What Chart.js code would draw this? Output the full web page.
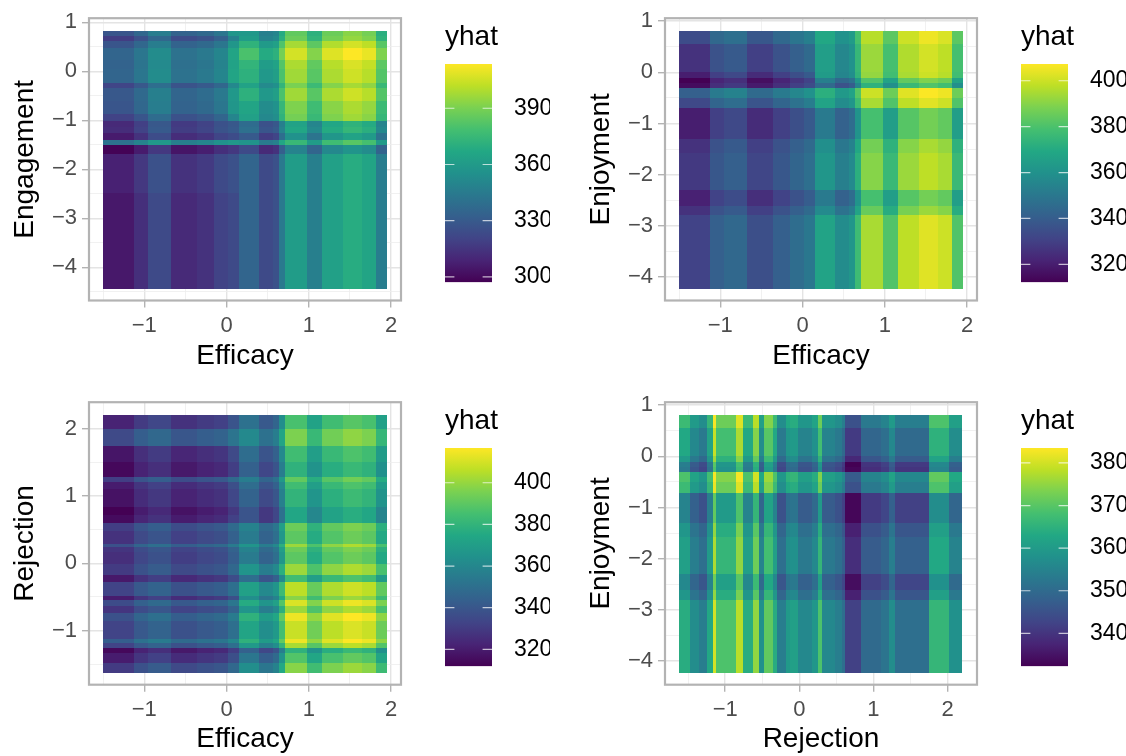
<!DOCTYPE html>
<html>
<head>
<meta charset="utf-8">
<title>yhat heatmaps</title>
<script src="https://cdn.jsdelivr.net/npm/chart.js@4"></script>
<style>
  html, body { margin: 0; padding: 0; background: #fff; overflow: hidden; }
  canvas { position: absolute; }
</style>
</head>
<body>
<canvas id="heat1"></canvas><canvas id="bar1"></canvas>
<canvas id="heat2"></canvas><canvas id="bar2"></canvas>
<canvas id="heat3"></canvas><canvas id="bar3"></canvas>
<canvas id="heat4"></canvas><canvas id="bar4"></canvas>
<script>
const efficacyEdges = [-1.503, -1.126, -0.956, -0.677, -0.365, -0.154, 0.016, 0.146, 0.392, 0.563, 0.635, 0.708, 0.976, 1.158, 1.417, 1.64, 1.814, 1.948];
const engagementEdges = [0.82, 0.72, 0.62, 0.47, 0.23, 0.05, -0.24, -0.34, -0.6, -0.87, -1.02, -1.13, -1.27, -1.4, -1.5, -1.69, -2.49, -4.44];
const enjoymentEdges = [0.8, 0.556, 0.012, -0.117, -0.214, -0.311, -0.494, -0.708, -1.311, -1.57, -2.296, -2.615, -2.796, -4.23];
const rejectionRowEdges = [2.2, 2.0, 1.74, 1.5, 1.28, 1.21, 1.1, 0.83, 0.71, 0.59, 0.48, 0.29, 0.24, 0.16, -0.01, -0.17, -0.28, -0.48, -0.54, -0.63, -0.74, -0.86, -1.12, -1.18, -1.26, -1.34, -1.48, -1.627];
const rejectionColEdges = [-1.627, -1.48, -1.357, -1.25, -1.17, -1.13, -0.86, -0.76, -0.62, -0.55, -0.48, -0.36, -0.3, -0.18, -0.13, -0.02, 0.17, 0.25, 0.3, 0.48, 0.57, 0.62, 0.83, 1.1, 1.21, 1.29, 1.56, 1.75, 2.02, 2.2];

// rows run top to bottom, columns left to right
const yhatEngagementEfficacy = [
  [328, 336, 346, 334, 337, 343, 358, 359, 347, 350, 368, 385, 371, 387, 393, 389, 370],
  [318, 326, 336, 324, 327, 333, 348, 361, 349, 352, 370, 387, 373, 389, 395, 391, 372],
  [328, 336, 346, 334, 337, 343, 358, 372, 360, 363, 381, 398, 384, 400, 406, 402, 383],
  [335, 343, 353, 341, 344, 350, 365, 380, 368, 371, 389, 406, 392, 408, 414, 410, 391],
  [334, 342, 352, 340, 343, 349, 364, 373, 361, 364, 382, 399, 385, 401, 407, 403, 384],
  [335, 343, 353, 341, 344, 350, 365, 371, 359, 362, 380, 397, 383, 399, 405, 401, 382],
  [321, 329, 339, 327, 330, 336, 351, 364, 352, 355, 373, 390, 376, 392, 398, 394, 375],
  [329, 337, 347, 335, 338, 344, 359, 371, 359, 362, 380, 397, 383, 399, 405, 401, 382],
  [328, 336, 346, 334, 337, 343, 358, 365, 353, 356, 374, 391, 377, 393, 399, 395, 376],
  [320, 328, 338, 326, 329, 335, 350, 363, 351, 354, 372, 389, 375, 391, 397, 393, 374],
  [311, 319, 329, 317, 320, 326, 329, 338, 326, 329, 347, 364, 350, 366, 372, 368, 349],
  [312, 320, 330, 318, 321, 327, 330, 340, 328, 331, 349, 366, 352, 368, 374, 370, 351],
  [306, 314, 324, 312, 315, 321, 324, 330, 318, 321, 339, 356, 342, 358, 364, 360, 341],
  [341, 349, 359, 347, 350, 356, 359, 357, 345, 348, 366, 375, 361, 377, 383, 379, 360],
  [298, 306, 316, 304, 307, 313, 316, 323, 311, 314, 332, 349, 335, 351, 357, 353, 334],
  [308, 316, 326, 314, 317, 323, 326, 335, 323, 326, 344, 361, 347, 363, 369, 365, 346],
  [305, 313, 323, 311, 314, 320, 323, 335, 323, 326, 344, 361, 347, 363, 369, 365, 346]
];
const yhatEnjoymentEfficacy = [
  [334, 344, 347, 338, 344, 349, 353, 369, 360, 364, 379, 397, 383, 400, 405, 402, 383],
  [326, 336, 339, 330, 336, 341, 345, 365, 356, 360, 375, 393, 379, 396, 401, 398, 379],
  [320, 330, 333, 324, 330, 335, 339, 364, 355, 359, 374, 392, 378, 395, 400, 397, 378],
  [312, 322, 325, 316, 322, 327, 331, 353, 344, 348, 363, 381, 367, 384, 389, 386, 367],
  [315, 325, 328, 319, 325, 330, 334, 345, 336, 340, 355, 373, 359, 376, 381, 378, 359],
  [341, 351, 354, 345, 351, 356, 360, 372, 363, 367, 382, 400, 386, 403, 407, 405, 386],
  [333, 343, 346, 337, 343, 348, 352, 367, 358, 362, 377, 395, 381, 398, 403, 400, 381],
  [320, 330, 333, 324, 330, 335, 339, 351, 342, 346, 361, 379, 365, 382, 387, 384, 365],
  [326, 336, 339, 330, 336, 341, 345, 359, 350, 354, 369, 387, 373, 390, 395, 392, 373],
  [328, 338, 341, 332, 338, 343, 347, 362, 353, 357, 372, 390, 376, 393, 398, 395, 376],
  [321, 331, 334, 325, 331, 336, 340, 351, 342, 346, 361, 379, 365, 382, 387, 384, 365],
  [326, 336, 339, 330, 336, 341, 345, 357, 348, 352, 367, 385, 371, 388, 393, 390, 371],
  [331, 341, 344, 335, 341, 346, 350, 367, 358, 362, 377, 395, 381, 398, 403, 400, 381]
];
const yhatRejectionEfficacy = [
  [322, 330, 334, 327, 330, 332, 339, 351, 341, 346, 363, 386, 372, 384, 389, 386, 371],
  [335, 343, 347, 340, 343, 345, 352, 361, 351, 356, 373, 396, 382, 394, 399, 396, 381],
  [318, 326, 330, 323, 326, 328, 335, 349, 339, 344, 361, 384, 370, 382, 387, 384, 369],
  [314, 322, 326, 319, 322, 324, 331, 344, 334, 339, 356, 379, 365, 377, 382, 379, 364],
  [331, 339, 343, 336, 339, 341, 348, 356, 346, 351, 368, 391, 377, 389, 394, 391, 376],
  [320, 328, 332, 325, 328, 330, 337, 349, 339, 344, 361, 384, 370, 382, 387, 384, 369],
  [317, 325, 329, 322, 325, 327, 334, 345, 335, 340, 357, 380, 366, 378, 383, 380, 365],
  [312, 320, 324, 317, 320, 322, 329, 339, 329, 334, 351, 374, 360, 372, 377, 374, 359],
  [315, 323, 327, 320, 323, 325, 332, 339, 329, 334, 351, 374, 360, 372, 377, 374, 359],
  [331, 339, 343, 336, 339, 341, 348, 358, 348, 353, 370, 393, 379, 391, 396, 393, 378],
  [327, 335, 339, 332, 335, 337, 344, 355, 345, 350, 367, 390, 376, 388, 393, 390, 375],
  [338, 346, 350, 343, 346, 348, 355, 366, 356, 361, 378, 401, 387, 399, 404, 401, 386],
  [328, 336, 340, 333, 336, 338, 345, 358, 348, 353, 370, 393, 379, 391, 396, 393, 378],
  [326, 334, 338, 331, 334, 336, 343, 355, 345, 350, 367, 390, 376, 388, 393, 390, 375],
  [330, 338, 342, 335, 338, 340, 347, 366, 356, 361, 378, 401, 387, 399, 404, 401, 386],
  [319, 327, 331, 324, 327, 329, 336, 349, 339, 344, 361, 384, 370, 382, 387, 384, 369],
  [333, 341, 345, 338, 341, 343, 350, 371, 361, 366, 383, 406, 392, 404, 409, 406, 391],
  [320, 328, 332, 325, 328, 330, 337, 363, 353, 358, 375, 398, 384, 396, 401, 398, 383],
  [336, 344, 348, 341, 344, 346, 353, 376, 366, 371, 388, 411, 397, 409, 414, 411, 396],
  [328, 336, 340, 333, 336, 338, 345, 366, 356, 361, 378, 401, 387, 399, 404, 401, 386],
  [338, 346, 350, 343, 346, 348, 355, 379, 369, 374, 391, 414, 400, 412, 417, 414, 399],
  [333, 341, 345, 338, 341, 343, 350, 373, 363, 368, 385, 408, 394, 406, 411, 408, 393],
  [343, 351, 355, 348, 351, 353, 360, 379, 369, 374, 391, 414, 400, 412, 417, 414, 399],
  [333, 341, 345, 338, 341, 343, 350, 368, 358, 363, 380, 403, 389, 401, 406, 403, 388],
  [314, 322, 326, 319, 322, 324, 331, 344, 334, 339, 356, 379, 365, 377, 382, 379, 364],
  [320, 328, 332, 325, 328, 330, 337, 353, 343, 348, 365, 388, 374, 386, 391, 388, 373],
  [330, 338, 342, 335, 338, 340, 347, 363, 353, 358, 375, 398, 384, 396, 401, 398, 383]
];
const yhatEnjoymentRejection = [
  [367, 360, 357, 366, 383, 372, 381, 367, 378, 361, 374, 367, 357, 363, 364, 359, 362, 372, 359, 357, 354, 345, 353, 355, 360, 354, 354, 369, 361],
  [363, 356, 353, 362, 379, 368, 377, 363, 374, 357, 370, 363, 353, 359, 360, 355, 358, 368, 355, 353, 350, 341, 349, 351, 356, 350, 350, 365, 357],
  [360, 353, 350, 359, 376, 365, 374, 360, 371, 354, 367, 360, 350, 356, 357, 352, 355, 365, 352, 350, 347, 338, 346, 348, 353, 347, 347, 362, 354],
  [354, 347, 344, 353, 370, 359, 368, 354, 365, 348, 361, 354, 344, 350, 351, 346, 349, 359, 346, 344, 341, 332, 340, 342, 347, 341, 341, 356, 348],
  [353, 346, 343, 352, 369, 358, 367, 353, 364, 347, 360, 353, 343, 349, 350, 345, 348, 358, 345, 343, 340, 333, 339, 341, 346, 340, 340, 355, 347],
  [369, 362, 359, 368, 383, 374, 383, 369, 380, 363, 376, 369, 359, 365, 366, 361, 364, 374, 361, 359, 356, 347, 355, 357, 362, 356, 356, 371, 363],
  [367, 360, 357, 366, 382, 372, 381, 367, 378, 361, 374, 367, 357, 363, 364, 359, 362, 372, 359, 357, 354, 345, 353, 355, 360, 354, 354, 369, 361],
  [355, 348, 345, 354, 371, 360, 369, 355, 366, 349, 362, 355, 345, 351, 352, 347, 350, 360, 347, 345, 342, 333, 341, 343, 348, 342, 342, 357, 349],
  [359, 352, 349, 358, 375, 364, 373, 359, 370, 353, 366, 359, 349, 355, 356, 351, 354, 364, 351, 349, 346, 337, 345, 347, 352, 346, 346, 361, 353],
  [361, 354, 351, 360, 377, 366, 375, 361, 372, 355, 368, 361, 351, 357, 358, 353, 356, 366, 353, 351, 348, 339, 347, 349, 354, 348, 348, 363, 355],
  [356, 349, 346, 355, 372, 361, 370, 356, 367, 350, 363, 356, 346, 352, 353, 348, 351, 361, 348, 346, 343, 334, 342, 344, 349, 343, 343, 358, 350],
  [359, 352, 349, 358, 375, 364, 373, 359, 370, 353, 366, 359, 349, 355, 356, 351, 354, 364, 351, 349, 346, 337, 345, 347, 352, 346, 346, 361, 353],
  [364, 357, 354, 363, 380, 369, 378, 364, 375, 358, 371, 364, 354, 360, 361, 356, 359, 369, 356, 354, 351, 342, 350, 352, 357, 351, 351, 366, 358]
];

const legendTicks1 = [300, 330, 360, 390];
const legendTicks2 = [320, 340, 360, 380, 400];
const legendTicks3 = [320, 340, 360, 380, 400];
const legendTicks4 = [340, 350, 360, 370, 380];

const viridis = ["#440154", "#482475", "#414487", "#355f8d", "#2a788e", "#21918c", "#22a884", "#44bf70", "#7ad151", "#bddf26", "#fde725"];

const panels = [
  { id: 1, left: 0, top: 0, height: 373, xTitle: "Efficacy", yTitle: "Engagement", xEdges: efficacyEdges, yEdges: engagementEdges, cells: yhatEngagementEfficacy,
    xMin: -1.672, xMax: 2.12, yMin: -4.679, yMax: 1.083, bottom: 300.5, legendMin: 297.2, legendMax: 413.6, legendTicks: legendTicks1 },
  { id: 2, left: 576, top: 0, height: 373, xTitle: "Efficacy", yTitle: "Enjoyment", xEdges: efficacyEdges, yEdges: enjoymentEdges, cells: yhatEnjoymentEfficacy,
    xMin: -1.672, xMax: 2.12, yMin: -4.459, yMax: 1.056, bottom: 300.5, legendMin: 312.2, legendMax: 407.3, legendTicks: legendTicks2 },
  { id: 3, left: 0, top: 384, height: 372, xTitle: "Efficacy", yTitle: "Rejection", xEdges: efficacyEdges, yEdges: rejectionRowEdges, cells: yhatRejectionEfficacy,
    xMin: -1.672, xMax: 2.12, yMin: -1.805, yMax: 2.392, bottom: 300.7, legendMin: 311.9, legendMax: 416.7, legendTicks: legendTicks3 },
  { id: 4, left: 576, top: 384, height: 372, xTitle: "Rejection", yTitle: "Enjoyment", xEdges: rejectionColEdges, yEdges: enjoymentEdges, cells: yhatEnjoymentRejection,
    xMin: -1.812, xMax: 2.398, yMin: -4.459, yMax: 1.056, bottom: 300.7, legendMin: 332.3, legendMax: 383.5, legendTicks: legendTicks4 }
];

Chart.defaults.font.family = '"Liberation Sans", Arial, sans-serif';
Chart.defaults.animation = false;

function hexToRgb(hex) {
  return [1, 3, 5].map((i) => parseInt(hex.slice(i, i + 2), 16));
}

function viridisColor(t) {
  const clamped = Math.min(1, Math.max(0, t));
  const pos = clamped * (viridis.length - 1);
  const i = Math.min(viridis.length - 2, Math.floor(pos));
  const a = hexToRgb(viridis[i]);
  const b = hexToRgb(viridis[i + 1]);
  const mix = a.map((c, k) => Math.round(c + (b[k] - c) * (pos - i)));
  return `rgb(${mix[0]}, ${mix[1]}, ${mix[2]})`;
}

function buildCells(panel) {
  const points = [];
  panel.cells.forEach((row, j) => {
    row.forEach((v, i) => {
      const x0 = panel.xEdges[i];
      const x1 = panel.xEdges[i + 1];
      const y0 = panel.yEdges[j];
      const y1 = panel.yEdges[j + 1];
      points.push({ x: (x0 + x1) / 2, y: (y0 + y1) / 2, x0, x1, y0, y1, v });
    });
  });
  return points;
}

function tickText(value) {
  if (!Number.isInteger(value)) return "";
  return String(value).replace("-", "\u2212");
}

const isMajor = (ctx) => Number.isInteger(ctx.tick.value);

function axisOptions(min, max, title, titlePadding) {
  return {
    type: "linear",
    min,
    max,
    border: { display: false },
    grid: {
      color: (ctx) => (isMajor(ctx) ? "#E4E4E4" : "#EEEEEE"),
      lineWidth: (ctx) => (isMajor(ctx) ? 1.4 : 0.8),
      tickColor: (ctx) => (isMajor(ctx) ? "#B3B3B3" : "rgba(0,0,0,0)"),
      tickWidth: 1.4,
      tickLength: 7
    },
    ticks: {
      stepSize: 0.5,
      includeBounds: false,
      autoSkip: false,
      maxRotation: 0,
      minRotation: 0,
      padding: 5,
      color: "#4D4D4D",
      font: { size: 22 },
      callback: tickText
    },
    title: { display: true, text: title, color: "#000", font: { size: 28 }, padding: titlePadding }
  };
}

function drawHeat(panel) {
  const canvas = document.getElementById(`heat${panel.id}`);
  canvas.width = 430;
  canvas.height = panel.height;
  canvas.style.left = `${panel.left}px`;
  canvas.style.top = `${panel.top}px`;

  const xAxis = axisOptions(panel.xMin, panel.xMax, panel.xTitle, { top: 0, bottom: 0 });
  xAxis.afterFit = (scale) => { scale.height = panel.height - panel.bottom; };
  const yAxis = axisOptions(panel.yMin, panel.yMax, panel.yTitle, { top: 8, bottom: 0 });
  yAxis.afterFit = (scale) => { scale.width = 89; };

  const heatPlugin = {
    id: "heatCells",
    beforeDatasetsDraw(chart) {
      const { ctx, scales } = chart;
      ctx.save();
      chart.data.datasets[0].data.forEach((c) => {
        const px0 = Math.round(scales.x.getPixelForValue(c.x0));
        const px1 = Math.round(scales.x.getPixelForValue(c.x1));
        const py0 = Math.round(scales.y.getPixelForValue(c.y0));
        const py1 = Math.round(scales.y.getPixelForValue(c.y1));
        ctx.fillStyle = viridisColor((c.v - panel.legendMin) / (panel.legendMax - panel.legendMin));
        ctx.fillRect(px0, py0, px1 - px0, py1 - py0);
      });
      ctx.restore();
    },
    afterDraw(chart) {
      const { ctx, chartArea } = chart;
      ctx.save();
      ctx.strokeStyle = "#B3B3B3";
      ctx.lineWidth = 2.2;
      ctx.strokeRect(chartArea.left, chartArea.top, chartArea.right - chartArea.left, chartArea.bottom - chartArea.top);
      ctx.restore();
    }
  };

  new Chart(canvas, {
    type: "scatter",
    data: { datasets: [{ label: "yhat", data: buildCells(panel), pointRadius: 0, showLine: false }] },
    options: {
      responsive: false,
      layout: { padding: { left: 0, top: 17, right: 29, bottom: 0 } },
      plugins: { legend: { display: false }, tooltip: { enabled: false } },
      scales: { x: xAxis, y: yAxis }
    },
    plugins: [heatPlugin]
  });
}

function drawLegend(panel) {
  const canvas = document.getElementById(`bar${panel.id}`);
  canvas.width = 105;
  canvas.height = 310;
  canvas.style.left = `${panel.left + 445}px`;
  canvas.style.top = `${panel.top}px`;

  const markPlugin = {
    id: "legendMarks",
    afterDatasetsDraw(chart) {
      const { ctx, chartArea, scales } = chart;
      const len = (chartArea.right - chartArea.left) * 0.2;
      ctx.save();
      ctx.strokeStyle = "rgba(255, 255, 255, 0.7)";
      ctx.lineWidth = 1.2;
      panel.legendTicks.forEach((v) => {
        const y = scales.y.getPixelForValue(v);
        ctx.beginPath();
        ctx.moveTo(chartArea.left, y);
        ctx.lineTo(chartArea.left + len, y);
        ctx.moveTo(chartArea.right - len, y);
        ctx.lineTo(chartArea.right, y);
        ctx.stroke();
      });
      ctx.restore();
    }
  };

  new Chart(canvas, {
    type: "bar",
    data: {
      labels: ["yhat"],
      datasets: [{
        data: [[panel.legendMin, panel.legendMax]],
        categoryPercentage: 1,
        barPercentage: 1,
        backgroundColor(ctx) {
          const area = ctx.chart.chartArea;
          if (!area) return viridis[0];
          const gradient = ctx.chart.ctx.createLinearGradient(0, area.bottom, 0, area.top);
          viridis.forEach((c, i) => gradient.addColorStop(i / (viridis.length - 1), c));
          return gradient;
        }
      }]
    },
    options: {
      responsive: false,
      layout: { padding: { left: 0, right: 0, top: 0, bottom: 14.3 } },
      plugins: {
        legend: { display: false },
        tooltip: { enabled: false },
        title: {
          display: true,
          text: "yhat",
          align: "start",
          color: "#000",
          font: { size: 28, weight: "normal" },
          padding: { top: 20, bottom: 10.4 }
        }
      },
      scales: {
        x: { display: false },
        y: {
          position: "right",
          min: panel.legendMin,
          max: panel.legendMax,
          border: { display: false },
          grid: { display: false },
          afterBuildTicks(scale) { scale.ticks = panel.legendTicks.map((value) => ({ value })); },
          afterFit(scale) { scale.width = 58; },
          ticks: { color: "#000", font: { size: 23 }, padding: 14, autoSkip: false }
        }
      }
    },
    plugins: [markPlugin]
  });
}

panels.forEach((panel) => {
  drawHeat(panel);
  drawLegend(panel);
});
</script>
</body>
</html>
